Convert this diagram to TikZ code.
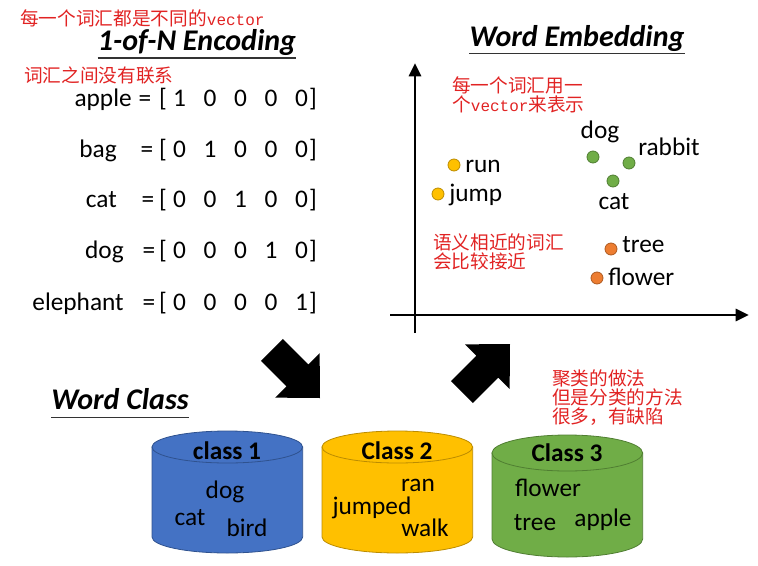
\documentclass[tikz,border=0pt]{standalone}
\usepackage{fontspec}
\setmainfont{Carlito}
\newfontfamily\cjk{Noto Sans CJK SC}
\newfontfamily\monofont{Liberation Mono}
\usetikzlibrary{arrows.meta, positioning}

\definecolor{note}{RGB}{225,35,35}
\definecolor{clsblue}{RGB}{68,114,196}
\definecolor{clsblueline}{RGB}{47,82,143}
\definecolor{clsgold}{RGB}{255,192,0}
\definecolor{clsgoldline}{RGB}{188,140,0}
\definecolor{clsgreen}{RGB}{112,173,71}
\definecolor{clsgreenline}{RGB}{80,126,50}
\definecolor{ptorange}{RGB}{237,125,49}
\definecolor{ptorangeline}{RGB}{174,90,33}

\newcommand{\vword}{{\monofont\fontsize{12}{14}\selectfont vector}}

\begin{document}
\begin{tikzpicture}[
  x=0.75pt, y=-0.75pt,
  word/.style={font=\fontsize{19}{22}\selectfont, inner sep=0pt},
  cls/.style={font=\bfseries\fontsize{19}{22}\selectfont, inner sep=0pt},
  title/.style={font=\bfseries\itshape\fontsize{22.5}{26}\selectfont, inner sep=0pt},
  notetext/.style={font=\cjk\fontsize{14}{14.3}\selectfont, text=note, align=left, inner sep=0pt, anchor=west},
  dot/.style={circle, minimum size=9pt, inner sep=0pt, line width=0.6pt},
  axis/.style={line width=2.2pt, -{Triangle[length=10pt, width=9pt]}},
  ul/.style={line width=1.2pt, draw=black!80},
  cylbody/.style={line width=0.6pt},
  bigarrow/.style={fill=black}
]
  \useasboundingbox (0,0) rectangle (758,565);

  % one-hot side
  \node[notetext] (n1) at (20,18) {每一个词汇都是不同的\vword};
  \node[title, anchor=base] (enc) at (197,50) {1-of-N Encoding};
  \draw[ul] ([yshift=-6pt]enc.base west) -- ([yshift=-6pt]enc.base east);
  \node[notetext] (n2) at (24,75) {词汇之间没有联系};

  \foreach \w/\wx/\ex/\bl [count=\r] in {apple/132/145/106, bag/117/147/157,
      cat/117/148/207, dog/124/149/258, elephant/124/149/310}{
    \node[word, anchor=base east] (w\r) at (\wx,\bl) {\w};
    \node[word, anchor=base] (eq\r) at (\ex,\bl) {=};
    \node[word, anchor=base] (lb\r) at (163,\bl) {[};
    \foreach \c in {1,...,5}{
      \pgfmathtruncatemacro\d{\c==\r}
      \node[word, anchor=base] (b\r-\c) at ({149+30.5*\c},\bl) {\d};
    }
    \node[word, anchor=base] (rb\r) at (313,\bl) {]};
  }

  % embedding side
  \node[title, anchor=base] (emb) at (577,46) {Word Embedding};
  \draw[ul] ([yshift=-5.5pt]emb.base west) -- ([yshift=-5.5pt]emb.base east);

  \coordinate (xs) at (390,315);
  \coordinate (xe) at (749,315);
  \coordinate (ys) at (415,333);
  \coordinate (ye) at (415,63);
  \draw[axis] (xs) -- (xe);
  \draw[axis] (ys) -- (ye);

  \node[notetext] (n3) at (452,95) {每一个词汇用一\\个\vword 来表示};
  \node[notetext] (n4) at (433,252) {语义相近的词汇\\会比较接近};

  \node[dot, fill=clsgold, draw=clsgoldline] (prun) at (454,165) {};
  \node[dot, fill=clsgold, draw=clsgoldline] (pjump) at (438,194) {};
  \node[dot, fill=clsgreen, draw=clsgreenline] (pdog) at (593,157) {};
  \node[dot, fill=clsgreen, draw=clsgreenline] (prabbit) at (629,163) {};
  \node[dot, fill=clsgreen, draw=clsgreenline] (pcat) at (613,181) {};
  \node[dot, fill=ptorange, draw=ptorangeline] (ptree) at (611,249) {};
  \node[dot, fill=ptorange, draw=ptorangeline] (pflower) at (597,278) {};

  \node[word, anchor=west] (lrun) at (465,166) {run};
  \node[word, anchor=west] (ljump) at (449,195) {jump};
  \node[word] (ldog) at (600,132) {dog};
  \node[word, anchor=west] (lrabbit) at (638,147) {rabbit};
  \node[word] (lcat) at (614,202) {cat};
  \node[word, anchor=west] (ltree) at (622,245) {tree};
  \node[word, anchor=west] (lflower) at (608,277) {flower};

  % block arrows
  \begin{scope}[shift={(320,398)}, rotate=-45]
    \fill[bigarrow] (0,0) -- (-32,31.5) -- (-32,15.5) -- (-68,15.5)
      -- (-68,-15.5) -- (-32,-15.5) -- (-32,-31.5) -- cycle;
  \end{scope}
  \begin{scope}[shift={(510,344)}, rotate=45]
    \fill[bigarrow] (0,0) -- (-32,31.5) -- (-32,15.5) -- (-68,15.5)
      -- (-68,-15.5) -- (-32,-15.5) -- (-32,-31.5) -- cycle;
  \end{scope}

  % word classes
  \node[title, anchor=base] (wcls) at (120,409) {Word Class};
  \draw[ul] ([yshift=-6.5pt]wcls.base west) -- ([yshift=-6.5pt]wcls.base east);

  \node[notetext] (n5) at (552,398) {聚类的做法\\但是分类的方法\\很多，有缺陷};

  \foreach \L/\yc/\yb/\ry/\fc/\dc in {152/447/537/12/clsblue/clsblueline,
      322/447/537/12/clsgold/clsgoldline, 492/453/539/13.5/clsgreen/clsgreenline}{
    \filldraw[cylbody, fill=\fc, draw=\dc] (\L,\yc) -- (\L,\yb)
      arc[start angle=180, end angle=360, x radius=56.5pt, y radius=\ry pt]
      -- ({\L+150.7},\yc) -- cycle;
    \filldraw[cylbody, fill=\fc, draw=\dc] ({\L+75.3},\yc)
      ellipse[x radius=56.5pt, y radius=\ry pt];
  }

  \node[cls] (c1) at (227,451) {class 1};
  \node[word] (c1a) at (225,492) {dog};
  \node[word] (c1b) at (190,518) {cat};
  \node[word] (c1c) at (247,528) {bird};

  \node[cls] (c2) at (397,451) {Class 2};
  \node[word] (c2a) at (418,485) {ran};
  \node[word] (c2b) at (372,508) {jumped};
  \node[word] (c2c) at (425,528) {walk};

  \node[cls] (c3) at (567,453) {Class 3};
  \node[word] (c3a) at (548,488) {flower};
  \node[word] (c3b) at (535,523) {tree};
  \node[word] (c3c) at (603,520) {apple};
\end{tikzpicture}
\end{document}
